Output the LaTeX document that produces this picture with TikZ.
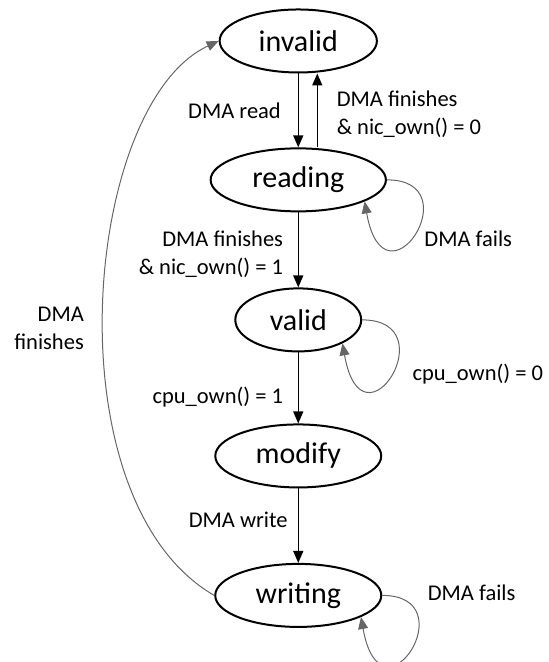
\documentclass[tikz,border=0pt]{standalone}
\usepackage{fontspec}
\setmainfont{Carlito}
\usetikzlibrary{arrows.meta,shapes.geometric}

\begin{document}
\begin{tikzpicture}
                \useasboundingbox (-5.24,0.72) rectangle (4.39,-10.91);
                \begin{scope}[every node/.style={draw, ellipse, line width=1pt, inner xsep=8pt, inner ysep=1pt, minimum height=31.5pt, font=\fontsize{15}{18}\selectfont}]
                        \node (inv) at (0,0) {invalid};
                        \node (rd) at (0,-2.44) {reading};
                        \node (vd) at (0,-4.90) {valid};
                        \node (mod) at (0,-7.29) {modify};
                        \node (wr) at (0,-9.74) {writing};
                \end{scope}
                \begin{scope}[every node/.style={inner sep=0pt, font=\fontsize{11.25}{14}\selectfont}]
                        \node[anchor=east] (l1) at (-0.30,-1.23) {DMA read};
                        \node[anchor=west, align=left] (l2) at (0.67,-1.28) {DMA finishes\\\& nic\_own() = 0};
                        \node[anchor=east, align=right] (l3) at (-0.26,-3.74) {DMA finishes\\\& nic\_own() = 1};
                        \node[anchor=west] (l4) at (2.21,-3.48) {DMA fails};
                        \node[anchor=west] (l5) at (2.00,-5.85) {cpu\_own() = 0};
                        \node[anchor=east] (l6) at (-0.26,-6.26) {cpu\_own() = 1};
                        \node[anchor=east] (l7) at (-0.18,-8.42) {DMA write};
                        \node[anchor=west] (l8) at (2.27,-9.70) {DMA fails};
                        \node[anchor=east, align=right] (l9) at (-3.76,-5.04) {DMA\\finishes};
                \end{scope}
                \begin{scope}[every path/.style={line width=0.7pt, ->, >={Triangle[length=6pt,width=5pt]}}]
                        \path (inv) edge (rd);
                        \path ([xshift=9.5pt]rd.north) edge ([xshift=9.5pt]inv.south);
                        \path (rd) edge (vd);
                        \path (vd) edge (mod);
                        \path (mod) edge (wr);
                \end{scope}
                \begin{scope}[every path/.style={line width=0.5pt, black!60, ->, >={Triangle[length=6pt,width=5pt]}}, selfloop/.style={out=0, in=-80, out distance=42.5pt, in distance=57.5pt}]
                        \path (rd.east) edge[selfloop] (rd.-18);
                        \path (vd.east) edge[selfloop] (vd.-28);
                        \path (wr.east) edge[selfloop] (wr.-19);
                        \path[black!80] (wr.west) edge[out=150, in=205, out distance=95pt, in distance=75pt] (inv.west);
                \end{scope}
        \end{tikzpicture}
\end{document}
